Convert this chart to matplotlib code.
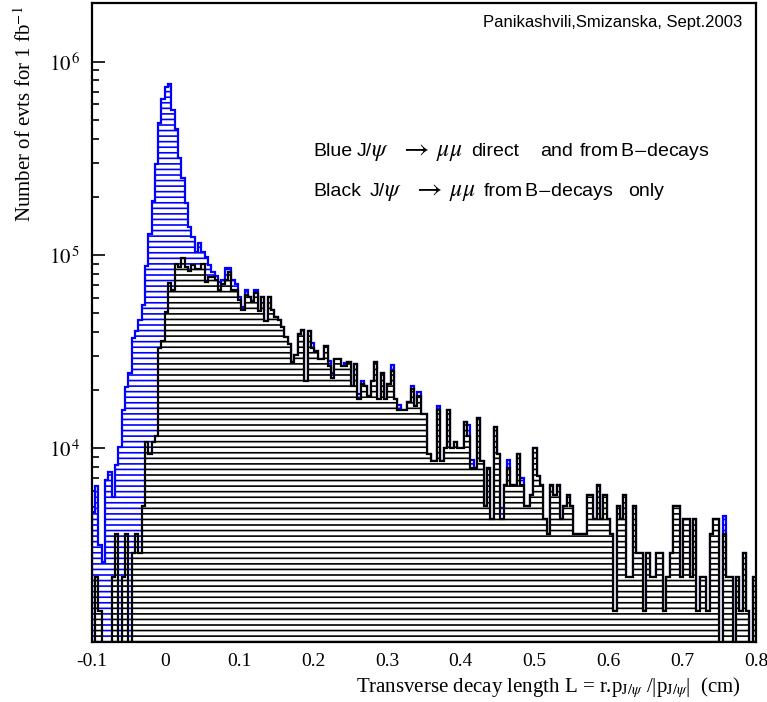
import numpy as np
import matplotlib
matplotlib.use("Agg")
import matplotlib.pyplot as plt
from matplotlib.ticker import FixedLocator, NullFormatter

plt.rcParams['mathtext.fontset'] = 'stix'
plt.rcParams['hatch.linewidth'] = 1.2

# ---------------- data ----------------
x_min, x_max, n_bins = -0.1, 0.8, 200

# J/psi from B-decays only (black)
black = [
    720, 2160, 1440, 720, 720, 720, 2160, 3600, 720, 2160,
    3600, 720, 2880, 3600, 2880, 5040, 10800, 9360, 10800, 11520,
    33120, 36000, 50400, 71280, 65520, 90000, 86400, 96480, 86400, 82800,
    88560, 84960, 84240, 89280, 72720, 77040, 77040, 74160, 66240, 70560,
    74160, 81360, 66240, 65520, 58320, 51840, 61920, 60480, 57600, 63360,
    51120, 60480, 45360, 60480, 51840, 47520, 46080, 42480, 37440, 34560,
    28080, 30240, 38880, 41040, 22320, 40320, 33120, 31680, 28800, 28800,
    33840, 26640, 23040, 28800, 28800, 26640, 26640, 28080, 20880, 27360,
    18000, 21600, 20880, 18720, 22320, 28080, 18000, 24480, 18000, 21600,
    25200, 18000, 15840, 15840, 15840, 17280, 20160, 16560, 18720, 15120,
    15120, 9360, 8640, 8640, 15840, 8640, 10080, 15840, 10080, 10800,
    10080, 10080, 13680, 11520, 7920, 7920, 14400, 8640, 5040, 7920,
    4320, 12960, 9360, 4320, 6480, 7920, 6480, 6480, 9360, 6480,
    5040, 5040, 5760, 10080, 7200, 6480, 4320, 3600, 6480, 5760,
    6480, 4320, 5040, 5760, 5040, 3600, 3600, 3600, 3600, 5760,
    5760, 4320, 6480, 4320, 5760, 4320, 3600, 1440, 5040, 4320,
    5760, 2160, 2160, 5040, 2880, 2880, 1440, 2880, 2160, 2160,
    2880, 2880, 1440, 2160, 2880, 5040, 5040, 2160, 4320, 4320,
    2160, 4320, 1440, 2160, 2160, 1440, 3600, 4320, 4320, 720,
    3600, 2160, 2160, 720, 2160, 1440, 2880, 1440, 720, 2160,
]

# J/psi direct + from B-decays (blue)
blue = [
    4700, 6420, 3180, 2570, 6870, 7540, 5570, 8200, 10200, 15800,
    20800, 24500, 37000, 40500, 46000, 55000, 87700, 129000, 191000, 297000,
    482000, 641000, 736000, 767000, 562000, 449000, 316000, 251000, 185000, 140000,
    124000, 104000, 115000, 104000, 98000, 88500, 81300, 77600, 72600, 74100,
    86100, 86100, 74100, 70600, 60300, 53700, 65800, 60480, 57600, 65800,
    51120, 60480, 45360, 60480, 51840, 47520, 46080, 42480, 37440, 34560,
    28080, 30240, 38880, 41040, 22320, 40320, 35100, 31680, 28800, 28800,
    33840, 28400, 24500, 28800, 28800, 26640, 27500, 28080, 20880, 27360,
    19100, 22300, 20880, 18720, 22320, 28080, 18000, 24480, 18000, 21600,
    26900, 18000, 16700, 15840, 15840, 17280, 20900, 16560, 19500, 15120,
    15120, 9360, 8640, 8640, 16560, 8640, 10080, 15840, 10080, 10800,
    10080, 10080, 13680, 13200, 8710, 7920, 14400, 8640, 5040, 7920,
    4320, 12960, 9360, 4900, 6480, 8710, 6480, 6480, 9360, 7000,
    5040, 5040, 5760, 10080, 7200, 6480, 4320, 3600, 6480, 5760,
    6480, 4320, 5040, 5760, 5040, 3600, 3600, 3600, 3600, 5760,
    5760, 4320, 6480, 4320, 5760, 4320, 3600, 1440, 5040, 4320,
    5760, 2160, 2160, 5040, 2880, 2880, 1440, 2880, 2160, 2160,
    2880, 2880, 1440, 2160, 2880, 5040, 5040, 2160, 4320, 4320,
    2160, 4320, 1440, 2160, 2160, 1440, 3600, 4320, 4320, 720,
    4450, 2160, 2160, 720, 2160, 1440, 2880, 1440, 720, 2160,
]

x_ticks = [-0.1, 0, 0.1, 0.2, 0.3, 0.4, 0.5, 0.6, 0.7, 0.8]
x_tick_labels = ["-0.1", "0", "0.1", "0.2", "0.3", "0.4", "0.5", "0.6", "0.7", "0.8"]
y_ticks = [1e4, 1e5, 1e6]
y_tick_labels = [r"$10^{\,4}$", r"$10^{\,5}$", r"$10^{\,6}$"]

# legend pieces: (text, left x in pixels, font size)
legend_line1 = [("Blue", 313, 14), ("J/", 357, 14), (r"$\psi$", 371, 17),
                (r"$\rightarrow$", 399, 20), (r"$\mu\mu$", 436, 17),
                ("direct", 471, 14), ("and", 540, 14), ("from", 580, 14),
                (r"B$-$decays", 620, 14)]
legend_line2 = [("Black", 313, 14), ("J/", 370, 14), (r"$\psi$", 384, 17),
                (r"$\rightarrow$", 412, 20), (r"$\mu\mu$", 449, 17),
                ("from", 484, 14), (r"B$-$decays", 524, 14), ("only", 628, 14)]

# ---------------- figure ----------------
fig = plt.figure(figsize=(7.67, 7.02), dpi=100)
ax = fig.add_axes([0.1196, 0.0859, 0.8661, 0.9093])

edges = np.linspace(x_min, x_max, n_bins + 1)
ax.stairs(blue, edges, baseline=10, fill=True, facecolor="white",
          edgecolor="#0000ff", hatch="---", linewidth=1.6, zorder=2)
ax.stairs(black, edges, baseline=10, fill=True, facecolor="white",
          edgecolor="black", hatch="---", linewidth=1.6, zorder=3)

ax.set_yscale("log")
ax.set_xlim(x_min, x_max)
ax.set_ylim(1000, 2e6)

serif = ["Liberation Serif", "DejaVu Serif"]
sans = ["Liberation Sans", "DejaVu Sans"]

ax.xaxis.set_major_locator(FixedLocator(x_ticks))
ax.set_xticklabels(x_tick_labels, family=serif, fontsize=14)
ax.xaxis.set_minor_locator(FixedLocator(np.arange(-0.1, 0.8001, 0.02)))
ax.yaxis.set_major_locator(FixedLocator(y_ticks))
ax.set_yticklabels(y_tick_labels, fontsize=15)
minor_y = [k * 10.0 ** e for e in range(3, 7) for k in range(2, 10)]
ax.yaxis.set_minor_locator(FixedLocator(minor_y))
ax.yaxis.set_minor_formatter(NullFormatter())

ax.tick_params(axis="both", which="both", direction="in", top=False, right=False,
               width=1.2, color="black")
ax.tick_params(axis="x", which="major", length=8, pad=8)
ax.tick_params(axis="x", which="minor", length=4)
ax.tick_params(axis="y", which="major", length=9.5, pad=8)
ax.tick_params(axis="y", which="minor", length=5)
for s in ax.spines.values():
    s.set_linewidth(1.6)
    s.set_zorder(5)

fig.text(742 / 767, 1 - 22 / 702, "Panikashvili,Smizanska, Sept.2003",
         ha="right", va="center", fontsize=12, family=sans)
for (txt, px, fs) in legend_line1:
    fig.text(px / 767, 1 - 156 / 702, txt, ha="left", va="baseline",
             fontsize=fs, family=sans)
for (txt, px, fs) in legend_line2:
    fig.text(px / 767, 1 - 196 / 702, txt, ha="left", va="baseline",
             fontsize=fs, family=sans)

fig.text(741 / 767, 1 - 692 / 702,
         r"Transverse decay length L = r.p$_{\mathrm{J/}\psi}$ /|p$_{\mathrm{J/}\psi}$|  (cm)",
         ha="right", va="baseline", fontsize=15, family=serif)
fig.text(25 / 767, 1 - 6 / 702, r"Number of evts for 1 fb$^{-1}$",
         rotation=90, ha="center", va="top", fontsize=15, family=serif)

fig.savefig("out.png", dpi=100)
